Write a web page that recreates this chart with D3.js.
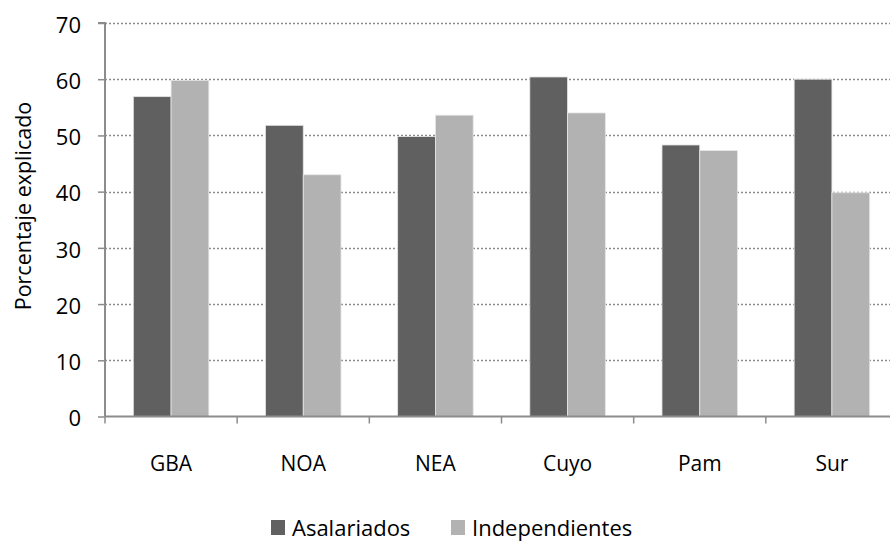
<!DOCTYPE html>
<html>
<head>
<meta charset="utf-8">
<script src="https://cdn.jsdelivr.net/npm/d3@7/dist/d3.min.js"></script>
<style>
  html, body { margin: 0; padding: 0; background: #fff; }
  svg { display: block; font-family: "Open Sans", "Noto Sans", sans-serif; }
</style>
</head>
<body>
<svg id="chart" width="890" height="541"></svg>
<script>
// Regions and share of explained percentage by worker type
const regions = ["GBA", "NOA", "NEA", "Cuyo", "Pam", "Sur"];
const seriesNames = ["Asalariados", "Independientes"];
const asalariados = [56.9, 51.8, 49.8, 60.4, 48.3, 60.0];
const independientes = [59.8, 43.0, 53.6, 54.0, 47.3, 39.8];
const yTicks = [0, 10, 20, 30, 40, 50, 60, 70];
const colors = ["#606060", "#b2b2b2"];

const svg = d3.select("#chart");
const plotLeft = 105, plotRight = 898, plotTop = 23, plotBottom = 416.5;

const x = d3.scaleBand().domain(regions).range([plotLeft, plotRight]).paddingInner(0).paddingOuter(0);
const inner = d3.scaleBand().domain(seriesNames).range([0, x.bandwidth()]).paddingInner(0).paddingOuter(0.75);
const y = d3.scaleLinear().domain([0, 70]).range([plotBottom, plotTop]);

// dotted gridlines
svg.append("g").selectAll("line").data(yTicks.filter(d => d > 0)).join("line")
  .attr("x1", plotLeft).attr("x2", plotRight)
  .attr("y1", d => Math.round(y(d)) + 0.5).attr("y2", d => Math.round(y(d)) + 0.5)
  .attr("stroke", "#8c8c8c").attr("stroke-width", 1.3).attr("stroke-dasharray", "2,2");

// bars
const rows = regions.map((r, i) => ({ region: r, values: [asalariados[i], independientes[i]] }));
const groups = svg.append("g").selectAll("g").data(rows).join("g")
  .attr("transform", d => `translate(${x(d.region)},0)`);
groups.selectAll("rect").data(d => d.values.map((v, j) => ({ name: seriesNames[j], v, j }))).join("rect")
  .attr("x", d => inner(d.name))
  .attr("width", inner.bandwidth())
  .attr("y", d => y(d.v))
  .attr("height", d => y(0) - y(d.v))
  .attr("fill", d => colors[d.j])
  .attr("stroke", "#e6e6e6").attr("stroke-width", 0.8);

// y axis
const yAxis = d3.axisLeft(y).tickValues(yTicks).tickSize(7).tickPadding(17).tickFormat(d3.format("d"));
const gy = svg.append("g").attr("transform", `translate(${plotLeft},0)`).call(yAxis);
gy.attr("font-size", null).attr("font-family", null);
gy.select(".domain").attr("stroke", "#8c8c8c").attr("stroke-width", 2).attr("d", `M-7,${y(70)}H0V${y(0)}`);
gy.selectAll(".tick line").attr("stroke", "#8c8c8c").attr("stroke-width", 1.5);
gy.selectAll(".tick text").style("font-size", "22px").attr("fill", "#000").attr("dy", "0.42em");

// x axis
const xAxis = d3.axisBottom(x).tickSize(0).tickPadding(0);
const gx = svg.append("g").attr("transform", `translate(0,${plotBottom})`).call(xAxis);
gx.attr("font-size", null).attr("font-family", null);
gx.select(".domain").attr("stroke", "#8c8c8c").attr("stroke-width", 2).attr("d", `M${plotLeft},0H${plotRight}`);
gx.selectAll(".tick text").style("font-size", "21px").attr("fill", "#000").attr("dy", 0).attr("y", 54);
// boundary ticks between categories
gx.append("g").selectAll("line").data(regions).join("line")
  .attr("x1", d => x(d)).attr("x2", d => x(d))
  .attr("y1", 0).attr("y2", 7)
  .attr("stroke", "#8c8c8c").attr("stroke-width", 1.5);

// y axis title
svg.append("text")
  .attr("transform", `translate(31,206) rotate(-90)`)
  .attr("text-anchor", "middle")
  .style("font-size", "21.5px").attr("fill", "#000")
  .text("Porcentaje explicado");

// legend
const legendX = [271, 451];
const lg = svg.append("g").selectAll("g").data(seriesNames).join("g")
  .attr("transform", (d, i) => `translate(${legendX[i]},520)`);
lg.append("rect").attr("width", 14).attr("height", 15).attr("fill", (d, i) => colors[i]);
lg.append("text").attr("x", 21).attr("y", 16).style("font-size", "22px").attr("fill", "#000").text(d => d);
</script>
</body>
</html>
